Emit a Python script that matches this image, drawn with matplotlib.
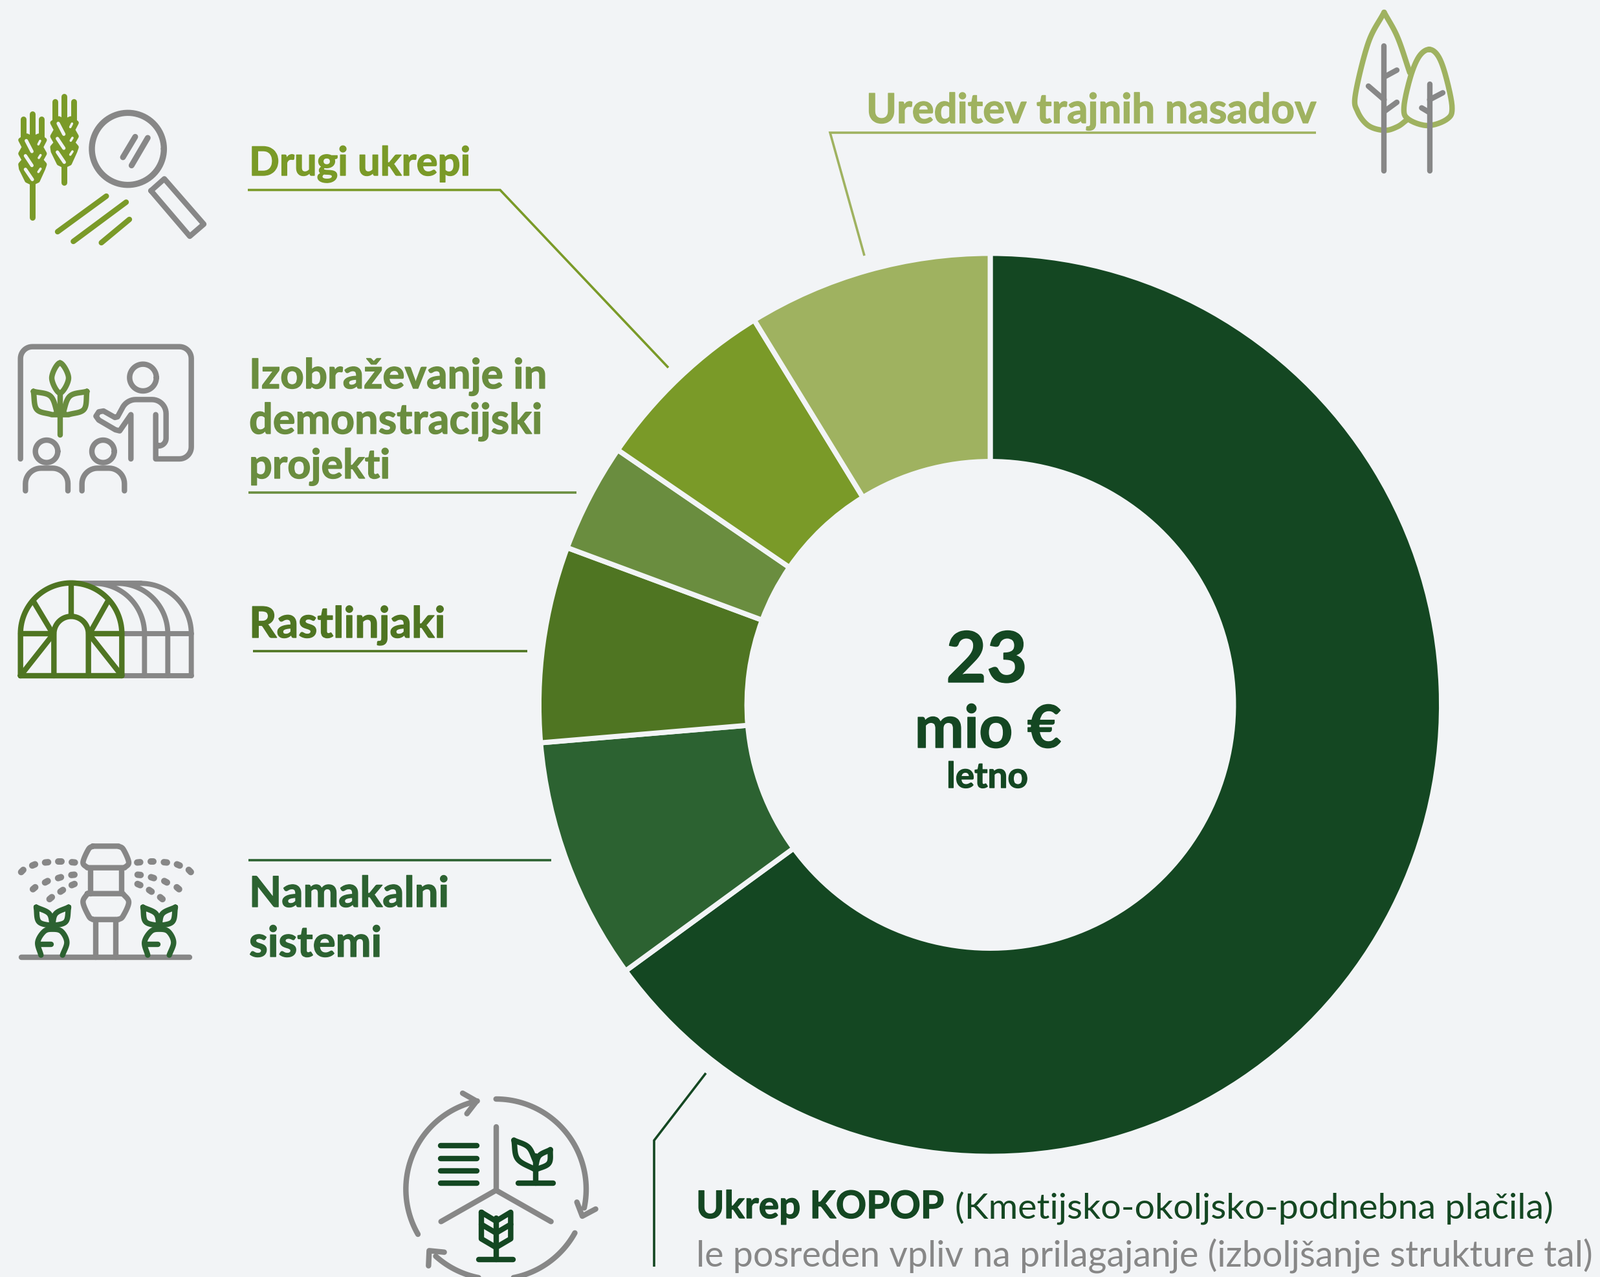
import numpy as np
import matplotlib
matplotlib.use("Agg")
import matplotlib.pyplot as plt
import matplotlib.patheffects as pe
from matplotlib.patches import Polygon

# ---- data -----
categories = ["Ukrep KOPOP", "Namakalni sistemi", "Rastlinjaki",
              "Izobraževanje in demonstracijski projekti", "Drugi ukrepi", "Ureditev trajnih nasadov"]
shares = [64.97, 8.69, 7.0, 3.89, 6.69, 8.76]
colors = ["#144722", "#2c6231", "#4f7522", "#6a8d3f", "#7a9a28", "#9fb260"]
BG = "#f2f4f6"
GREY = "#878787"
W, H = 2473, 1974
FONT = ["Lato", "DejaVu Sans"]

fig = plt.figure(figsize=(W/100, H/100), dpi=100, facecolor=BG)

# donut
cx, cy, R, r = 1530.5, 1090, 697.5, 376
axp = fig.add_axes([(cx-R)/W, 1-(cy+R)/H, 2*R/W, 2*R/H])
axp.pie(shares, colors=colors, startangle=90, counterclock=False, radius=1,
        wedgeprops=dict(width=1-r/R, edgecolor=BG, linewidth=5.7, clip_on=False))
axp.set_xlim(-1, 1); axp.set_ylim(-1, 1); axp.axis("off")

# overlay in pixel coordinates
ax = fig.add_axes([0, 0, 1, 1], facecolor="none")
ax.set_xlim(0, W); ax.set_ylim(H, 0); ax.axis("off")

def spline(pts, closed=False, n=14):
    p = np.array(pts, float)
    if closed:
        p = np.vstack([p[-1], p, p[0], p[1]])
    else:
        p = np.vstack([2*p[0]-p[1], p, 2*p[-1]-p[-2]])
    out = []
    for i in range(1, len(p)-2):
        p0, p1, p2, p3 = p[i-1], p[i], p[i+1], p[i+2]
        for t in np.linspace(0, 1, n, endpoint=False):
            out.append(0.5*((2*p1)+(-p0+p2)*t+(2*p0-5*p1+4*p2-p3)*t**2+(-p0+3*p1-3*p2+p3)*t**3))
    out.append(p[-2])
    return np.array(out)

def arc(c, rad, a0, a1, n=40):
    a = np.radians(np.linspace(a0, a1, n))
    return np.column_stack([c[0]+rad*np.cos(a), c[1]+rad*np.sin(a)])

def stroke(o, pts, color=GREY, w=8, closed=False, z=5):
    p = np.array(pts, float)/3 + np.array(o)
    if closed:
        p = np.vstack([p, p[0]])
    ax.plot(p[:, 0], p[:, 1], color=color, lw=w*0.72*1.05, solid_capstyle="round",
            solid_joinstyle="round", zorder=z, clip_on=True)

def sp(o, pts, color=GREY, w=8, closed=False, z=5):
    stroke(o, spline(pts, closed), color, w, closed=False, z=z)

def circ(o, c, rad, color=GREY, w=8, z=5):
    stroke(o, arc(c, rad, 0, 360, 80), color, w, z=z)

def fill(o, pts, color, z=5):
    p = np.array(pts, float)/3 + np.array(o)
    ax.add_patch(Polygon(p, closed=True, fc=color, ec=color, lw=5, joinstyle="round", zorder=z))

# ---- icon: wheat + magnifier ----
o1 = (0, 120); c = colors[4]
for dx, dy in [(0, 0), (148, -80)]:
    oo = (o1[0]+dx/3, o1[1]+dy/3)
    for xx, y0 in [(108, 195), (150, 170), (193, 195)]:
        stroke(oo, [(xx, y0), (xx, 280)], c, 8.5)
    if dx == 0:
        stroke(oo, [(150, 490), (150, 652)], c, 8.5)
    else:
        stroke(oo, [(150, 490), (150, 570)], c, 8.5)
    fill(oo, [(150, 492), (125, 480), (98, 425), (95, 405), (112, 385), (95, 355), (112, 325), (95, 292), (125, 272),
              (150, 285), (180, 272), (207, 292), (190, 325), (207, 355), (190, 385), (207, 405), (200, 425),
              (175, 480)], c)
    for a, b in [((122, 295), (148, 345)), ((118, 365), (148, 410)), ((118, 428), (150, 475))]:
        stroke(oo, [a, b], BG, 5, z=6)
    for a, b in [((178, 312), (186, 296)), ((180, 375), (188, 362)), ((178, 440), (188, 425))]:
        stroke(oo, [a, b], BG, 3.5, z=6)
circ(o1, (593, 333), 167, GREY, 9)
stroke(o1, [(570, 372), (627, 277)], GREY, 8.5)
stroke(o1, [(610, 410), (685, 282)], GREY, 8.5)
stroke(o1, [(700, 527), (762, 472), (945, 682), (880, 738)], GREY, 8, closed=True)
stroke(o1, [(267, 717), (493, 552)], c, 8)
stroke(o1, [(340, 762), (585, 580)], c, 8)
stroke(o1, [(470, 768), (600, 660)], c, 8)

# ---- icon: teaching ----
o2 = (0, 510); c = colors[3]
board = [(95, 600)] + list(arc((150, 135), 55, 180, 270, 12)) + list(arc((832, 135), 55, 270, 360, 12)) \
    + list(arc((832, 545), 55, 0, 90, 12)) + [(722, 600), (722, 395)]
stroke(o2, board)
circ(o2, (663, 223), 62)
stroke(o2, [(735, 538)] + list(arc((735, 505), 35, 90, 0, 10)) + [(770, 395)] + list(arc((705, 390), 65, 0, -90, 12)) +
       [(630, 325)] + list(arc((630, 395), 70, -90, -155, 10)) +
       [(545, 405), (533, 408), (480, 378), (458, 382), (445, 402), (458, 420), (535, 465), (555, 470), (607, 395), (607, 600)])
stroke(o2, [(278, 300), (278, 490)], c)
sp(o2, [(278, 155), (318, 225), (278, 295), (240, 225)], c, 8, closed=True)
stroke(o2, list(spline([(155, 287), (235, 310), (268, 395)])) + [(240, 395)] +
       list(spline([(240, 395), (170, 370), (155, 287)])), c)
stroke(o2, list(spline([(403, 287), (323, 310), (290, 395)])) + [(318, 395)] +
       list(spline([(318, 395), (390, 370), (403, 287)])), c)
for dx in (0, 262):
    circ(o2, (216+dx, 565), 52)
    stroke(o2, [(118+dx, 748)] + list(arc((190+dx, 715), 72, 180, 270, 12)) + list(arc((243+dx, 715), 72, 270, 360, 12)) + [(315+dx, 748)])

# ---- icon: greenhouse ----
o3 = (0, 870); c = colors[2]
stroke(o3, [(565, 525), (887, 525)], w=7.5)
stroke(o3, [(565, 330), (887, 330)], w=7.5)
stroke(o3, [(330, 97), (654, 97)], w=7.5)
for top in (670, 778, 887):
    cxx = top-233
    stroke(o3, list(arc((cxx, 330), 233, -90, 0, 30)) + [(top, 525)], w=7.5)
stroke(o3, [(95, 525), (95, 330)] + list(arc((330, 330), 235, 180, 360, 60)) + [(565, 525)], c, 8, closed=True, z=6)
stroke(o3, [(330, 100), (330, 250)], c, z=6)
stroke(o3, [(250, 525), (250, 330)] + list(arc((330, 330), 80, 180, 360, 30)) + [(410, 525)], c, z=6)
for a, b in [((95, 330), (250, 330)), ((410, 330), (565, 330)), ((155, 180), (245, 330)), ((500, 180), (415, 330)),
             ((95, 525), (245, 335)), ((565, 525), (415, 335))]:
    stroke(o3, [a, b], c, z=6)

# ---- icon: irrigation ----
o4 = (0, 1280); c = colors[1]
stroke(o4, [(100, 600), (880, 600)])
stroke(o4, [(445, 425), (445, 600)]); stroke(o4, [(538, 425), (538, 600)])
stroke(o4, [(420, 190), (420, 305)]); stroke(o4, [(565, 190), (565, 305)])
stroke(o4, [(405, 305), (570, 305)] + list(spline([(570, 305), (597, 345), (570, 410), (550, 425)])) + [(430, 425)] +
       list(spline([(430, 425), (412, 410), (385, 345), (405, 305)])), closed=True)
stroke(o4, [(430, 85), (550, 85)] + list(spline([(550, 85), (572, 100), (597, 160), (578, 185)])) + [(405, 185)] +
       list(spline([(405, 185), (385, 160), (410, 100), (430, 85)])))
dots_l = [(103, 200, -.8), (156, 172, -.4), (216, 160, -.1), (278, 157, 0), (340, 160, .1),
          (158, 280, -.7), (215, 250, -.5), (276, 231, -.3), (338, 218, -.1),
          (235, 326, -.7), (286, 292, -.6), (339, 263, -.4)]
for x, y, s in dots_l:
    for X, S in [(x, s), (983-x, -s)]:
        d = np.array([np.cos(S), np.sin(S)])*7
        stroke(o4, [(X-d[0], y-d[1]), (X+d[0], y+d[1])], w=9.5)
for xc in (243, 738):
    d = xc-243
    sp(o4, [(190+d, 590), (175+d, 530), (205+d, 480), (243+d, 470), (285+d, 480), (310+d, 530), (290+d, 590)], c)
    stroke(o4, [(190+d, 540), (238+d, 540)], c)
    stroke(o4, list(spline([(168+d, 368), (228+d, 398), (243+d, 455)])) +
           list(spline([(243+d, 455), (180+d, 435), (168+d, 368)])), c)
    stroke(o4, list(spline([(318+d, 368), (258+d, 398), (243+d, 455)])) +
           list(spline([(243+d, 455), (305+d, 435), (318+d, 368)])), c)

# ---- icon: KOPOP ----
o5 = (600, 1670); c = colors[0]
cc = (500, 505)
stroke(o5, arc(cc, 418, -90, 12, 50))
stroke(o5, [(875, 565), (900, 630), (962, 597)])
stroke(o5, arc(cc, 418, 29, 132, 50))
stroke(o5, [(187, 860), (190, 790), (260, 797)])
stroke(o5, arc(cc, 418, 150, 258, 50))
stroke(o5, [(345, 60), (410, 97), (365, 155)])
stroke(o5, [(500, 215), (500, 510)]); stroke(o5, [(500, 510), (245, 655)]); stroke(o5, [(500, 510), (755, 655)])
for y in (303, 362, 420, 478):
    stroke(o5, [(243, y), (412, y)], c)
stroke(o5, [(603, 478), (765, 478)], c); stroke(o5, [(683, 478), (683, 350)], c)
sp(o5, [(583, 278), (650, 310), (683, 375)], c)
sp(o5, [(583, 278), (600, 365), (683, 415)], c)
sp(o5, [(752, 322), (700, 350), (683, 400)], c)
sp(o5, [(752, 322), (745, 385), (683, 415)], c)
stroke(o5, [(420, 830), (580, 830)], c); stroke(o5, [(500, 830), (500, 640)], c)
stroke(o5, [(432, 612), (500, 653), (568, 612), (568, 735), (500, 775), (432, 735)], c, closed=True)
stroke(o5, [(432, 668), (500, 708), (568, 668)], c)

# ---- icon: trees ----
o6 = (2060, 0); c = colors[5]
sp(o6, [(238, 60), (165, 200), (105, 440), (115, 520), (165, 585), (240, 607), (300, 590), (342, 560)], c)
sp(o6, [(238, 60), (300, 175), (357, 340)], c)
sp(o6, [(447, 232), (400, 265), (360, 360), (330, 500), (350, 555), (440, 585), (530, 555), (553, 500), (525, 360), (490, 265)], c, closed=True)
stroke(o6, [(238, 217), (238, 795)]); stroke(o6, [(238, 360), (297, 328)])
stroke(o6, [(165, 402), (238, 465)]); stroke(o6, [(238, 520), (297, 477)])
stroke(o6, [(449, 392), (449, 795)]); stroke(o6, [(449, 465), (510, 433)]); stroke(o6, [(412, 503), (449, 525)])

# ---- leader lines ----
leaders = [([2034, 1283, 1336], [206, 206, 396], colors[5]),
           ([383, 773, 1033], [294.5, 294.5, 569], colors[4]),
           ([384, 891], [761.5, 761.5], colors[3]),
           ([391, 815], [1006.5, 1006.5], colors[2]),
           ([384, 852], [1329.5, 1329.5], colors[1]),
           ([1091, 1011, 1011], [1659, 1763, 1958], colors[0])]
for xs, ys, col in leaders:
    ax.plot(xs, ys, color=col, lw=2.6, solid_joinstyle="miter", solid_capstyle="butt", zorder=4)

# ---- text ----
rend = fig.canvas.get_renderer()
def T(x, y, s, width, col, weight="bold", ha="left"):
    t = ax.text(x, y, s, fontsize=40, color=col, fontweight=weight, ha=ha, va="baseline", family=FONT, zorder=8)
    t.set_fontsize(40*width/t.get_window_extent(rend).width)
    if weight == "bold":
        t.set_path_effects([pe.withStroke(linewidth=1.0, foreground=col)])
    return t

T(1339, 191, "Ureditev trajnih nasadov", 695, colors[5])
T(385, 272, "Drugi ukrepi", 342, colors[4])
for y, s, w_ in zip([601, 671, 740], ["Izobraževanje in", "demonstracijski", "projekti"], [460, 453, 218]):
    T(385, y, s, w_, colors[3])
T(385, 986, "Rastlinjaki", 303, colors[2])
T(385, 1402, "Namakalni", 309, colors[1])
T(385, 1479, "sistemi", 205, colors[1])
T(1525, 1055, "23", 126, colors[0], ha="center")
T(1527, 1156, "mio €", 227, colors[0], ha="center")
T(1526, 1218, "letno", 126, colors[0], ha="center")
T(1076, 1883, "Ukrep KOPOP", 383, colors[0])
T(1476, 1883, "(Kmetijsko-okoljsko-podnebna plačila)", 924, colors[0], weight="normal")
T(1076, 1957, "le posreden vpliv na prilagajanje (izboljšanje strukture tal)", 1385, GREY, weight="normal")

fig.savefig("out.png", dpi=100, facecolor=BG)
